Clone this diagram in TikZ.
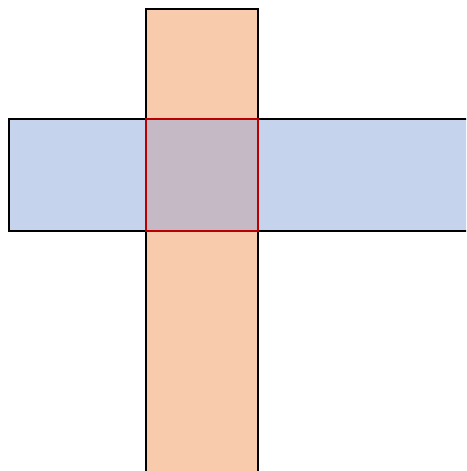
\documentclass[tikz,border=0pt]{standalone}
\definecolor{orangefill}{HTML}{F8CBAD}
\definecolor{bluefill}{HTML}{C5D4EC}
\definecolor{overlapfill}{HTML}{C4B9C4}
\definecolor{redline}{HTML}{B80000}
\begin{document}
\begin{tikzpicture}[x=1pt,y=-1pt,
  bar/.style={draw=black,line width=2.4pt,inner sep=0pt,outer sep=0pt,anchor=north west},
  overlap/.style={draw=redline,fill=overlapfill,line width=2.6pt,inner sep=0pt,outer sep=0pt,anchor=north west}]
\useasboundingbox (0,0) rectangle (466,471);
\clip (0,0) rectangle (466,471);
\node[bar,fill=orangefill,minimum width=112pt,minimum height=480pt] (vbar) at (146,9) {};
\node[bar,fill=bluefill,minimum width=470pt,minimum height=112pt] (hbar) at (9,119) {};
\node[overlap,minimum width=112pt,minimum height=112pt] (cross) at (146,119) {};
\end{tikzpicture}
\end{document}
